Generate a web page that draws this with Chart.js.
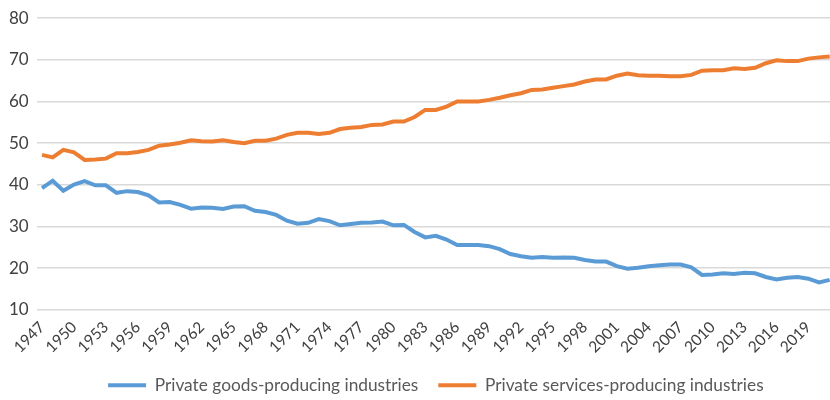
<!DOCTYPE html>
<html>
<head>
<meta charset="utf-8">
<script src="https://cdn.jsdelivr.net/npm/chart.js@4"></script>
<style>
    html, body { margin: 0; padding: 0; background: #fff; overflow: hidden; }
    #wrap { width: 835px; height: 400px; position: relative; }
</style>
</head>
<body>
<div id="wrap"><canvas id="chart"></canvas></div>
<script>
// Años 1947-2021
const years = [];
for (let y = 1947; y <= 2021; y++) years.push(String(y));

const goodsShare = [
    39.2, 41.0, 38.6, 40.1, 40.9, 39.9, 39.9, 38.1, 38.5, 38.3,
    37.5, 35.8, 35.9, 35.2, 34.3, 34.6, 34.5, 34.2, 34.8, 34.9,
    33.8, 33.5, 32.8, 31.4, 30.7, 30.9, 31.8, 31.3, 30.3, 30.6,
    30.9, 31.0, 31.2, 30.3, 30.4, 28.7, 27.4, 27.8, 26.9, 25.6,
    25.6, 25.6, 25.3, 24.6, 23.4, 22.9, 22.5, 22.7, 22.5, 22.6,
    22.5, 22.0, 21.6, 21.6, 20.5, 19.9, 20.1, 20.5, 20.7, 20.9,
    20.9, 20.2, 18.4, 18.5, 18.8, 18.6, 18.9, 18.8, 17.9, 17.3,
    17.7, 17.9, 17.5, 16.6, 17.2
];

const servicesShare = [
    47.2, 46.6, 48.4, 47.8, 46.0, 46.1, 46.3, 47.6, 47.6, 47.9,
    48.4, 49.4, 49.7, 50.1, 50.7, 50.5, 50.4, 50.7, 50.3, 50.0,
    50.6, 50.6, 51.1, 52.0, 52.5, 52.5, 52.2, 52.5, 53.4, 53.7,
    53.9, 54.4, 54.5, 55.2, 55.2, 56.3, 58.0, 58.0, 58.8, 60.0,
    60.0, 60.0, 60.4, 60.9, 61.5, 62.0, 62.8, 62.9, 63.3, 63.7,
    64.1, 64.8, 65.3, 65.3, 66.2, 66.7, 66.3, 66.2, 66.2, 66.1,
    66.1, 66.4, 67.4, 67.5, 67.5, 68.0, 67.8, 68.1, 69.2, 69.9,
    69.7, 69.7, 70.3, 70.6, 70.8
];

const seriesNames = ['Private goods-producing industries', 'Private services-producing industries'];
const yTicks = [10, 20, 30, 40, 50, 60, 70, 80];

const textColor = '#595959';
const fontFamily = 'Lato, "Noto Sans", sans-serif';

const ctx = document.getElementById('chart').getContext('2d');
new Chart(ctx, {
    type: 'line',
    data: {
        labels: years,
        datasets: [{
            label: seriesNames[0],
            data: goodsShare,
            borderColor: '#5B9BD5',
            backgroundColor: '#5B9BD5',
            borderWidth: 4,
            pointRadius: 0,
            tension: 0
        }, {
            label: seriesNames[1],
            data: servicesShare,
            borderColor: '#ED7D31',
            backgroundColor: '#ED7D31',
            borderWidth: 4,
            pointRadius: 0,
            tension: 0
        }]
    },
    options: {
        responsive: true,
        maintainAspectRatio: false,
        animation: false,
        layout: { padding: { left: 1, right: 0, top: 10, bottom: 0 } },
        plugins: {
            tooltip: { enabled: false },
            legend: {
                position: 'bottom',
                fullSize: false,
                maxHeight: 43.5,
                labels: {
                    usePointStyle: true,
                    pointStyleWidth: 38,
                    pointStyle: 'line',
                    padding: 20,
                    color: textColor,
                    font: { family: fontFamily, size: 17.3 }
                }
            }
        },
        scales: {
            x: {
                offset: true,
                grid: { display: false },
                border: { display: false },
                ticks: {
                    autoSkip: false,
                    maxRotation: 45,
                    minRotation: 45,
                    padding: 0,
                    color: '#404040',
                    font: { family: fontFamily, size: 15.5 },
                    callback: function (value, index) {
                        return index % 3 === 0 ? years[index] : null;
                    }
                }
            },
            y: {
                min: yTicks[0],
                max: yTicks[yTicks.length - 1],
                grid: { color: '#d9d9d9', lineWidth: 1.5, drawTicks: false },
                border: { display: false },
                afterBuildTicks: axis => { axis.ticks = yTicks.map(v => ({ value: v })); },
                ticks: {
                    padding: 8,
                    color: '#404040',
                    font: { family: fontFamily, size: 17 }
                }
            }
        }
    }
});
</script>
</body>
</html>
